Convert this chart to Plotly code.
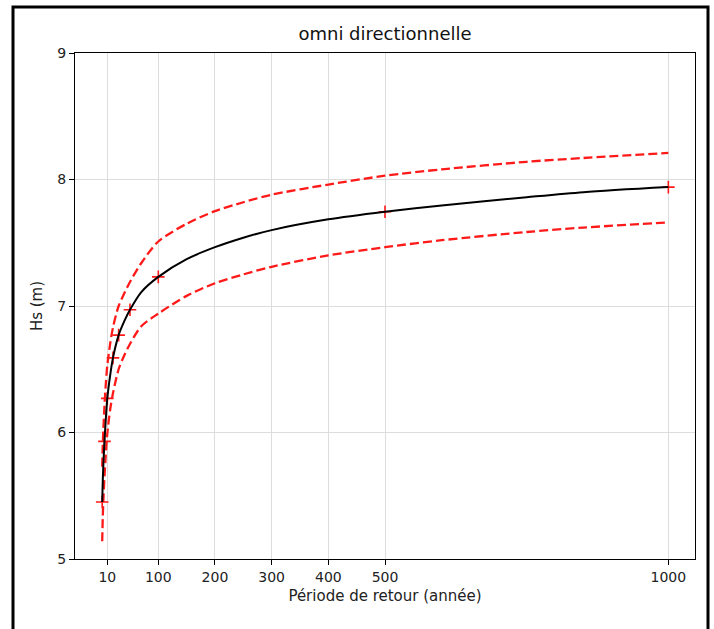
import plotly.graph_objects as go

# Return period (years) and Hs (m)
curve_x = [1, 2, 3, 5, 7, 10, 15, 20, 30, 40, 50, 70, 100, 150, 200, 250, 300, 400, 500, 600, 750, 850, 1000]
curve_y = [5.45, 5.62, 5.74, 5.93, 6.08, 6.27, 6.45, 6.59, 6.77, 6.88, 6.97, 7.11, 7.23, 7.37, 7.465, 7.54,
           7.60, 7.685, 7.745, 7.795, 7.86, 7.90, 7.94]
upper_y = [5.73, 5.90, 6.02, 6.21, 6.36, 6.53, 6.70, 6.83, 7.00, 7.10, 7.19, 7.34, 7.51, 7.65, 7.75, 7.82,
           7.88, 7.96, 8.03, 8.08, 8.14, 8.17, 8.21]
lower_y = [5.14, 5.33, 5.46, 5.65, 5.80, 5.99, 6.18, 6.31, 6.50, 6.61, 6.70, 6.84, 6.94, 7.08, 7.18, 7.25,
           7.31, 7.40, 7.465, 7.52, 7.585, 7.62, 7.66]

points_x = [1, 5, 10, 20, 30, 50, 100, 500, 1000]
points_y = [5.45, 5.93, 6.27, 6.59, 6.77, 6.97, 7.23, 7.745, 7.94]

x_ticks = [10, 100, 200, 300, 400, 500, 1000]
y_ticks = [5, 6, 7, 8, 9]

FONT = "DejaVu Sans"

fig = go.Figure()
dash_style = dict(color="#ff1a1a", width=2.3, dash="9px,4px", shape="spline", smoothing=0.8)
fig.add_trace(go.Scatter(x=curve_x, y=upper_y, mode="lines", line=dash_style, showlegend=False))
fig.add_trace(go.Scatter(x=curve_x, y=lower_y, mode="lines", line=dash_style, showlegend=False))
fig.add_trace(go.Scatter(x=points_x, y=points_y, mode="markers",
                         marker=dict(symbol="cross-thin", size=9, line=dict(color="#ff1a1a", width=1.6)),
                         showlegend=False))
fig.add_trace(go.Scatter(x=curve_x, y=curve_y, mode="lines",
                         line=dict(color="black", width=2, shape="spline", smoothing=0.8),
                         showlegend=False))

axis_common = dict(
    showline=True, linecolor="black", linewidth=1.3, mirror=True,
    showgrid=True, gridcolor="#dddddd", gridwidth=1,
    ticks="outside", ticklen=5, tickcolor="black", tickwidth=1.2,
    tickfont=dict(family=FONT, size=14, color="#222222"),
    zeroline=False,
)

fig.update_layout(
    width=714, height=629,
    margin=dict(l=75, r=19, t=53, b=70),
    paper_bgcolor="white", plot_bgcolor="white",
    title=dict(text="omni directionnelle", x=0.5, xanchor="center", y=0.947, yanchor="middle",
               xref="paper", font=dict(family=FONT, size=18, color="#111111")),
    xaxis=dict(range=[-47, 1047], tickvals=x_ticks, ticktext=[str(v) for v in x_ticks],
               title=dict(text="Période de retour (année)", font=dict(family=FONT, size=15, color="#222222"),
                          standoff=6),
               **axis_common),
    yaxis=dict(range=[5, 9], tickvals=y_ticks, ticktext=[str(v) for v in y_ticks],
               title=dict(text="Hs (m)", font=dict(family=FONT, size=15, color="#222222"), standoff=10),
               **axis_common),
    shapes=[dict(type="rect", xref="paper", yref="paper",
                 x0=(13 - 75) / 620, x1=(708 - 75) / 620,
                 y0=(559 - 660) / 506, y1=(559 - 7) / 506,
                 line=dict(color="black", width=3), fillcolor="rgba(0,0,0,0)", layer="above")],
)

fig.write_html("out.html")
